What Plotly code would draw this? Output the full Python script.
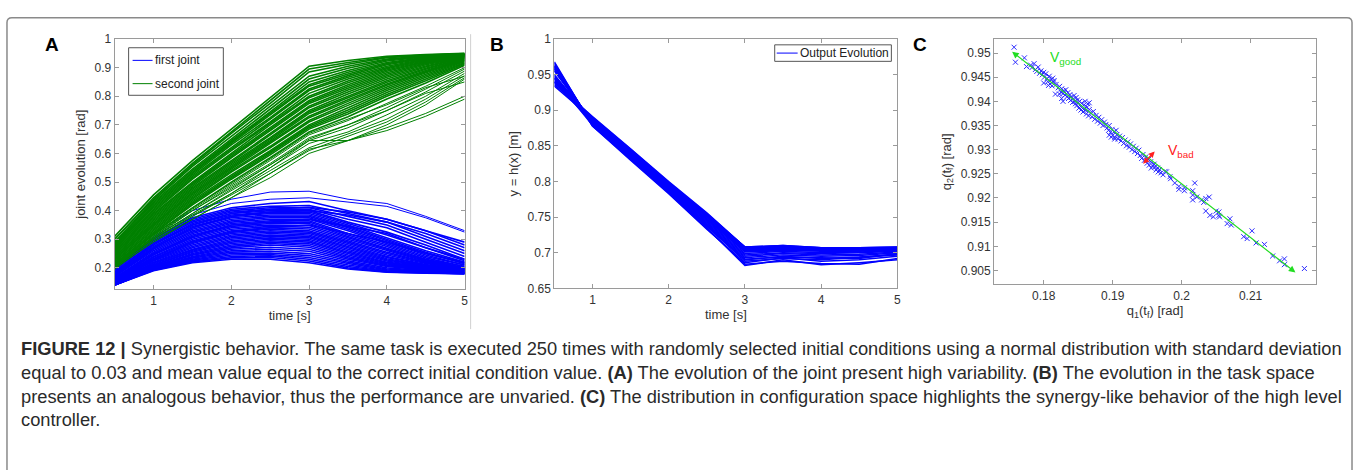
import plotly.graph_objects as go

# ---------------- data ----------------
time_s = [0.5, 1, 1.5, 2, 2.5, 3, 3.5, 4, 4.5, 5]

# first joint: dense bundle + a few outlying runs
first_joint = [
    [0.20, 0.305, 0.375, 0.41, 0.425, 0.432, 0.40, 0.37, 0.33, 0.28],
    [0.195, 0.30, 0.37, 0.405, 0.415, 0.418, 0.39, 0.36, 0.32, 0.27],
    [0.19, 0.295, 0.365, 0.40, 0.41, 0.41, 0.38, 0.35, 0.30, 0.25],
    [0.185, 0.29, 0.36, 0.395, 0.405, 0.405, 0.37, 0.34, 0.29, 0.24],
    [0.185, 0.285, 0.355, 0.39, 0.40, 0.40, 0.36, 0.325, 0.28, 0.23],
    [0.18, 0.28, 0.35, 0.385, 0.395, 0.395, 0.355, 0.315, 0.27, 0.225],
    [0.18, 0.275, 0.345, 0.38, 0.39, 0.39, 0.35, 0.305, 0.26, 0.22],
    [0.175, 0.27, 0.34, 0.375, 0.385, 0.385, 0.345, 0.30, 0.255, 0.215],
    [0.175, 0.27, 0.335, 0.37, 0.38, 0.38, 0.34, 0.295, 0.25, 0.215],
    [0.17, 0.265, 0.33, 0.365, 0.375, 0.375, 0.335, 0.29, 0.245, 0.21],
    [0.17, 0.26, 0.325, 0.36, 0.37, 0.37, 0.33, 0.285, 0.24, 0.21],
    [0.165, 0.255, 0.32, 0.355, 0.365, 0.365, 0.32, 0.28, 0.235, 0.205],
    [0.165, 0.25, 0.315, 0.35, 0.36, 0.36, 0.315, 0.275, 0.23, 0.205],
    [0.16, 0.248, 0.31, 0.345, 0.355, 0.355, 0.31, 0.27, 0.228, 0.20],
    [0.16, 0.245, 0.305, 0.34, 0.35, 0.348, 0.305, 0.265, 0.225, 0.20],
    [0.158, 0.24, 0.30, 0.335, 0.345, 0.342, 0.30, 0.26, 0.222, 0.198],
    [0.155, 0.237, 0.295, 0.33, 0.34, 0.336, 0.295, 0.255, 0.22, 0.197],
    [0.155, 0.233, 0.29, 0.325, 0.335, 0.33, 0.29, 0.25, 0.218, 0.196],
    [0.152, 0.23, 0.285, 0.32, 0.33, 0.325, 0.285, 0.245, 0.215, 0.195],
    [0.15, 0.227, 0.28, 0.315, 0.325, 0.32, 0.28, 0.24, 0.212, 0.194],
    [0.15, 0.224, 0.275, 0.31, 0.32, 0.315, 0.275, 0.236, 0.21, 0.193],
    [0.148, 0.22, 0.27, 0.305, 0.315, 0.31, 0.27, 0.232, 0.208, 0.192],
    [0.147, 0.217, 0.265, 0.30, 0.31, 0.305, 0.265, 0.228, 0.206, 0.191],
    [0.146, 0.214, 0.262, 0.295, 0.305, 0.30, 0.26, 0.224, 0.204, 0.19],
    [0.145, 0.211, 0.258, 0.29, 0.30, 0.295, 0.255, 0.22, 0.202, 0.189],
    [0.144, 0.208, 0.255, 0.285, 0.295, 0.29, 0.25, 0.217, 0.20, 0.188],
    [0.143, 0.206, 0.25, 0.28, 0.29, 0.284, 0.245, 0.214, 0.198, 0.187],
    [0.142, 0.204, 0.247, 0.275, 0.285, 0.278, 0.24, 0.211, 0.196, 0.186],
    [0.141, 0.202, 0.244, 0.27, 0.28, 0.272, 0.235, 0.208, 0.194, 0.185],
    [0.14, 0.20, 0.24, 0.265, 0.272, 0.265, 0.23, 0.205, 0.192, 0.184],
    [0.14, 0.198, 0.237, 0.26, 0.265, 0.258, 0.225, 0.20, 0.19, 0.183],
    [0.14, 0.196, 0.234, 0.255, 0.258, 0.25, 0.22, 0.196, 0.188, 0.182],
    [0.14, 0.195, 0.23, 0.25, 0.252, 0.243, 0.215, 0.193, 0.186, 0.181],
    [0.14, 0.194, 0.227, 0.245, 0.247, 0.236, 0.21, 0.19, 0.184, 0.18],
    [0.14, 0.193, 0.224, 0.24, 0.242, 0.23, 0.205, 0.188, 0.183, 0.18],
    [0.14, 0.192, 0.221, 0.235, 0.236, 0.224, 0.20, 0.186, 0.182, 0.18],
    [0.14, 0.19, 0.218, 0.23, 0.23, 0.218, 0.196, 0.185, 0.181, 0.18],
    [0.17, 0.27, 0.34, 0.38, 0.395, 0.40, 0.385, 0.36, 0.31, 0.26],
    [0.18, 0.285, 0.35, 0.39, 0.405, 0.412, 0.395, 0.37, 0.33, 0.29],
    [0.16, 0.25, 0.31, 0.35, 0.36, 0.37, 0.345, 0.32, 0.27, 0.23],
    [0.15, 0.23, 0.29, 0.325, 0.34, 0.35, 0.32, 0.29, 0.25, 0.22],
]
first_joint_outliers = [
    [0.21, 0.32, 0.40, 0.44, 0.465, 0.468, 0.44, 0.425, 0.38, 0.33],
    [0.20, 0.31, 0.385, 0.425, 0.44, 0.445, 0.43, 0.415, 0.375, 0.325],
]

second_joint = [
    [0.31, 0.455, 0.575, 0.685, 0.795, 0.905, 0.925, 0.940, 0.946, 0.950],
    [0.30, 0.445, 0.565, 0.675, 0.785, 0.895, 0.918, 0.937, 0.944, 0.949],
    [0.30, 0.44, 0.56, 0.67, 0.775, 0.885, 0.912, 0.935, 0.943, 0.948],
    [0.29, 0.435, 0.555, 0.66, 0.765, 0.87, 0.905, 0.930, 0.941, 0.947],
    [0.29, 0.43, 0.545, 0.65, 0.755, 0.86, 0.898, 0.927, 0.940, 0.947],
    [0.285, 0.425, 0.54, 0.645, 0.745, 0.85, 0.89, 0.923, 0.938, 0.946],
    [0.28, 0.42, 0.535, 0.64, 0.74, 0.84, 0.884, 0.918, 0.936, 0.945],
    [0.28, 0.415, 0.53, 0.635, 0.735, 0.835, 0.878, 0.914, 0.934, 0.945],
    [0.275, 0.41, 0.525, 0.63, 0.725, 0.825, 0.872, 0.910, 0.932, 0.944],
    [0.27, 0.405, 0.52, 0.62, 0.72, 0.82, 0.866, 0.905, 0.930, 0.944],
    [0.27, 0.40, 0.515, 0.615, 0.71, 0.81, 0.86, 0.900, 0.928, 0.943],
    [0.265, 0.395, 0.51, 0.61, 0.705, 0.80, 0.853, 0.896, 0.925, 0.942],
    [0.26, 0.39, 0.50, 0.60, 0.70, 0.795, 0.847, 0.892, 0.922, 0.941],
    [0.26, 0.385, 0.495, 0.595, 0.69, 0.785, 0.84, 0.887, 0.92, 0.940],
    [0.255, 0.38, 0.49, 0.59, 0.685, 0.78, 0.834, 0.882, 0.917, 0.939],
    [0.25, 0.375, 0.485, 0.585, 0.68, 0.775, 0.828, 0.877, 0.914, 0.938],
    [0.25, 0.37, 0.48, 0.575, 0.67, 0.765, 0.822, 0.872, 0.91, 0.937],
    [0.245, 0.365, 0.475, 0.57, 0.665, 0.76, 0.815, 0.866, 0.906, 0.936],
    [0.24, 0.36, 0.47, 0.565, 0.655, 0.75, 0.808, 0.860, 0.902, 0.935],
    [0.24, 0.355, 0.465, 0.56, 0.65, 0.745, 0.80, 0.854, 0.898, 0.933],
    [0.235, 0.35, 0.46, 0.555, 0.645, 0.74, 0.795, 0.849, 0.894, 0.932],
    [0.23, 0.35, 0.455, 0.55, 0.64, 0.73, 0.788, 0.843, 0.89, 0.930],
    [0.23, 0.345, 0.45, 0.545, 0.635, 0.725, 0.782, 0.838, 0.886, 0.928],
    [0.225, 0.34, 0.445, 0.54, 0.625, 0.715, 0.775, 0.832, 0.882, 0.926],
    [0.22, 0.335, 0.44, 0.535, 0.62, 0.71, 0.768, 0.826, 0.877, 0.924],
    [0.22, 0.33, 0.435, 0.525, 0.61, 0.70, 0.76, 0.82, 0.872, 0.921],
    [0.215, 0.325, 0.43, 0.52, 0.605, 0.695, 0.752, 0.813, 0.866, 0.918],
    [0.21, 0.32, 0.425, 0.515, 0.60, 0.69, 0.745, 0.806, 0.86, 0.915],
    [0.21, 0.32, 0.42, 0.51, 0.595, 0.685, 0.738, 0.80, 0.854, 0.912],
    [0.205, 0.315, 0.41, 0.50, 0.585, 0.675, 0.728, 0.79, 0.846, 0.908],
]
second_joint_outliers = [
    [0.20, 0.31, 0.405, 0.49, 0.575, 0.665, 0.715, 0.775, 0.835, 0.90],
    [0.20, 0.305, 0.40, 0.485, 0.565, 0.655, 0.70, 0.76, 0.825, 0.895],
    [0.205, 0.31, 0.40, 0.48, 0.56, 0.645, 0.69, 0.75, 0.815, 0.888],
    [0.21, 0.305, 0.39, 0.47, 0.55, 0.635, 0.675, 0.735, 0.80, 0.88],
    [0.20, 0.30, 0.385, 0.46, 0.54, 0.62, 0.668, 0.72, 0.79, 0.872],
    [0.205, 0.30, 0.38, 0.455, 0.53, 0.61, 0.66, 0.71, 0.78, 0.865],
    [0.195, 0.295, 0.37, 0.445, 0.515, 0.60, 0.645, 0.70, 0.77, 0.86],
    [0.20, 0.29, 0.37, 0.445, 0.53, 0.615, 0.645, 0.68, 0.73, 0.79],
    [0.21, 0.30, 0.38, 0.46, 0.55, 0.645, 0.645, 0.69, 0.74, 0.80],
    [0.205, 0.305, 0.39, 0.475, 0.56, 0.65, 0.70, 0.75, 0.81, 0.85],
    [0.215, 0.315, 0.41, 0.495, 0.58, 0.67, 0.72, 0.77, 0.83, 0.87],
]

output_evolution = [
    [0.968, 0.878, 0.832, 0.786, 0.738, 0.690, 0.695, 0.692, 0.694, 0.698],
    [0.966, 0.879, 0.833, 0.787, 0.740, 0.693, 0.697, 0.695, 0.696, 0.700],
    [0.964, 0.880, 0.834, 0.788, 0.741, 0.695, 0.699, 0.697, 0.698, 0.701],
    [0.962, 0.881, 0.835, 0.789, 0.743, 0.697, 0.700, 0.699, 0.700, 0.702],
    [0.960, 0.882, 0.836, 0.790, 0.744, 0.699, 0.702, 0.700, 0.701, 0.703],
    [0.958, 0.883, 0.837, 0.791, 0.746, 0.701, 0.703, 0.702, 0.702, 0.704],
    [0.956, 0.884, 0.838, 0.792, 0.747, 0.702, 0.704, 0.703, 0.703, 0.704],
    [0.955, 0.884, 0.839, 0.793, 0.748, 0.703, 0.705, 0.704, 0.704, 0.705],
    [0.950, 0.885, 0.840, 0.794, 0.750, 0.705, 0.706, 0.705, 0.705, 0.706],
    [0.948, 0.886, 0.841, 0.795, 0.751, 0.706, 0.707, 0.705, 0.705, 0.706],
    [0.946, 0.887, 0.842, 0.796, 0.752, 0.707, 0.708, 0.706, 0.706, 0.707],
    [0.944, 0.888, 0.843, 0.797, 0.753, 0.708, 0.709, 0.706, 0.706, 0.707],
    [0.942, 0.889, 0.844, 0.798, 0.754, 0.708, 0.709, 0.707, 0.707, 0.707],
    [0.940, 0.890, 0.845, 0.799, 0.755, 0.708, 0.710, 0.707, 0.707, 0.708],
    [0.938, 0.891, 0.846, 0.800, 0.756, 0.708, 0.710, 0.707, 0.707, 0.708],
    [0.936, 0.890, 0.844, 0.797, 0.752, 0.707, 0.708, 0.706, 0.706, 0.707],
    [0.934, 0.888, 0.842, 0.795, 0.749, 0.704, 0.706, 0.704, 0.704, 0.705],
    [0.962, 0.880, 0.832, 0.785, 0.735, 0.682, 0.690, 0.683, 0.686, 0.690],
    [0.945, 0.879, 0.831, 0.784, 0.734, 0.684, 0.688, 0.685, 0.684, 0.692],
    [0.960, 0.878, 0.830, 0.783, 0.733, 0.686, 0.693, 0.688, 0.690, 0.695],
    [0.940, 0.882, 0.834, 0.786, 0.737, 0.688, 0.692, 0.690, 0.693, 0.697],
    [0.958, 0.881, 0.835, 0.788, 0.739, 0.691, 0.694, 0.693, 0.692, 0.699],
]

# final configuration (q1(tf), q2(tf)) pairs
tf_points_upper = [
    (0.1757, 0.9512), (0.1759, 0.9481), (0.1772, 0.9490), (0.1775, 0.9472), (0.1781, 0.9475),
    (0.1783, 0.9470), (0.1786, 0.9478), (0.1788, 0.9466), (0.1790, 0.9462), (0.1792, 0.9471),
    (0.1794, 0.9458), (0.1796, 0.9463), (0.1798, 0.9455), (0.1800, 0.9438), (0.1800, 0.9460),
    (0.1801, 0.9450), (0.1803, 0.9457), (0.1805, 0.9447), (0.1806, 0.9441), (0.1807, 0.9433),
    (0.1808, 0.9452), (0.1809, 0.9436), (0.1811, 0.9445), (0.1812, 0.9432), (0.1813, 0.9448),
    (0.1814, 0.9440), (0.1815, 0.9443),
]
tf_points_middle = [
    (0.1817, 0.9415), (0.1818, 0.9435), (0.1821, 0.9428), (0.1823, 0.9431), (0.1823, 0.9415),
    (0.1825, 0.9419), (0.1826, 0.9406), (0.1826, 0.9426), (0.1828, 0.9400), (0.1828, 0.9416),
    (0.1829, 0.9422), (0.1831, 0.9413), (0.1832, 0.9424), (0.1834, 0.9410), (0.1835, 0.9418),
    (0.1836, 0.9406), (0.1838, 0.9414), (0.1839, 0.9402), (0.1840, 0.9409), (0.1842, 0.9398),
    (0.1843, 0.9405), (0.1844, 0.9412), (0.1845, 0.9400), (0.1846, 0.9395), (0.1847, 0.9408),
    (0.1848, 0.9391), (0.1849, 0.9403), (0.1850, 0.9397), (0.1851, 0.9386), (0.1852, 0.9400),
    (0.1853, 0.9393), (0.1854, 0.9382), (0.1855, 0.9396), (0.1856, 0.9389), (0.1857, 0.9378),
    (0.1858, 0.9392), (0.1859, 0.9385), (0.1860, 0.9400), (0.1861, 0.9381), (0.1862, 0.9374),
    (0.1863, 0.9388), (0.1864, 0.9395), (0.1865, 0.9370), (0.1866, 0.9383), (0.1866, 0.9397),
    (0.1868, 0.9376), (0.1870, 0.9368), (0.1872, 0.9379), (0.1874, 0.9363), (0.1876, 0.9371),
    (0.1878, 0.9359), (0.1880, 0.9367), (0.1882, 0.9355), (0.1884, 0.9362), (0.1886, 0.9350),
    (0.1888, 0.9357),
]
tf_points_lower = [
    (0.1890, 0.9352), (0.1892, 0.9345), (0.1894, 0.9340), (0.1895, 0.9330), (0.1895, 0.9350),
    (0.1897, 0.9336), (0.1898, 0.9326), (0.1899, 0.9342), (0.1900, 0.9330), (0.1902, 0.9337),
    (0.1903, 0.9322), (0.1903, 0.9325), (0.1905, 0.9340), (0.1906, 0.9331), (0.1908, 0.9322),
    (0.1910, 0.9328), (0.1912, 0.9318), (0.1914, 0.9325), (0.1916, 0.9313), (0.1918, 0.9320),
    (0.1920, 0.9308), (0.1922, 0.9316), (0.1924, 0.9305), (0.1926, 0.9312), (0.1928, 0.9300),
    (0.1930, 0.9307), (0.1932, 0.9296), (0.1934, 0.9303), (0.1936, 0.9292), (0.1938, 0.9299),
    (0.1940, 0.9288), (0.1942, 0.9282), (0.1944, 0.9290), (0.1946, 0.9278), (0.1948, 0.9285),
    (0.1950, 0.9272), (0.1952, 0.9280), (0.1953, 0.9268), (0.1955, 0.9275), (0.1956, 0.9262),
    (0.1958, 0.9266), (0.1960, 0.9270), (0.1961, 0.9264), (0.1963, 0.9258), (0.1965, 0.9262),
    (0.1966, 0.9254), (0.1968, 0.9259), (0.1970, 0.9252), (0.1973, 0.9248), (0.1976, 0.9255),
    (0.1978, 0.9254), (0.1983, 0.9244), (0.1984, 0.9240), (0.1990, 0.9231), (0.1996, 0.9224),
    (0.1996, 0.9218), (0.2004, 0.9221), (0.2004, 0.9215),
]
tf_points_sparse = [
    (0.2016, 0.9215), (0.2016, 0.9206), (0.2016, 0.9196), (0.2019, 0.9231), (0.2022, 0.9202),
    (0.2029, 0.9196), (0.2032, 0.9191), (0.2035, 0.9199), (0.2040, 0.9202), (0.2035, 0.9173),
    (0.2041, 0.9164), (0.2046, 0.9161), (0.2050, 0.9173), (0.2054, 0.9171), (0.2054, 0.9164),
    (0.2055, 0.9161), (0.2066, 0.9147), (0.2070, 0.9157), (0.2072, 0.9144), (0.2090, 0.9120),
    (0.2095, 0.9116), (0.2102, 0.9132), (0.2108, 0.9107), (0.2120, 0.9104), (0.2132, 0.9080),
    (0.2142, 0.9070), (0.2149, 0.9074), (0.2149, 0.9062), (0.2178, 0.9054),
]

# direction vectors drawn in panel C (tail -> head, both ends arrowed)
v_good_q1 = [0.1752, 0.2165]
v_good_q2 = [0.9505, 0.9046]
v_bad_q1 = [0.1942, 0.1961]
v_bad_q2 = [0.9268, 0.9296]

x_ticks_time = [1, 2, 3, 4, 5]
y_ticks_a = [0.2, 0.3, 0.4, 0.5, 0.6, 0.7, 0.8, 0.9, 1]
y_ticks_b = [0.65, 0.7, 0.75, 0.8, 0.85, 0.9, 0.95, 1]
x_ticks_c = [0.18, 0.19, 0.2, 0.21]
y_ticks_c = [0.905, 0.91, 0.915, 0.92, 0.925, 0.93, 0.935, 0.94, 0.945, 0.95]

legend_a_labels = ["first joint", "second joint"]
legend_b_labels = ["Output Evolution"]

caption_lines = [
    "<b>FIGURE 12 |</b> Synergistic behavior. The same task is executed 250 times with randomly selected initial conditions using a normal distribution with standard deviation",
    "equal to 0.03 and mean value equal to the correct initial condition value. <b>(A)</b> The evolution of the joint present high variability. <b>(B)</b> The evolution in the task space",
    "presents an analogous behavior, thus the performance are unvaried. <b>(C)</b> The distribution in configuration space highlights the synergy-like behavior of the high level",
    "controller.",
]

# ---------------- figure ----------------
W, H = 1360, 470
BLUE = "#0000ff"
GREEN = "#008000"
FONT = "Liberation Sans, Arial, Helvetica, sans-serif"
AX_COL = "#9a9a9a"
TXT_COL = "#333333"

fig = go.Figure()


def add_bundle(curves, color, width, name, xa, ya):
    for curve in curves:
        fig.add_trace(go.Scatter(x=time_s, y=curve, mode="lines", line=dict(color=color, width=width),
                                 name=name, showlegend=False, xaxis=xa, yaxis=ya, hoverinfo="skip"))


add_bundle(first_joint, BLUE, 1.6, legend_a_labels[0], "x", "y")
add_bundle(first_joint_outliers, BLUE, 1.0, legend_a_labels[0], "x", "y")
add_bundle(second_joint, GREEN, 1.6, legend_a_labels[1], "x", "y")
add_bundle(second_joint_outliers, GREEN, 1.0, legend_a_labels[1], "x", "y")
add_bundle(output_evolution, BLUE, 1.5, legend_b_labels[0], "x2", "y2")

tf_points = tf_points_upper + tf_points_middle + tf_points_lower + tf_points_sparse
fig.add_trace(go.Scatter(x=[p[0] for p in tf_points], y=[p[1] for p in tf_points], mode="markers",
                         marker=dict(symbol="x-thin", size=5, line=dict(color="#2a2aff", width=1)),
                         showlegend=False, xaxis="x3", yaxis="y3", hoverinfo="skip"))


def px_x(p):
    return p / W


def px_y(p):
    return 1 - p / H


def axis(domain, rng, tickvals, title, standoff, anchor, **kw):
    d = dict(domain=domain, range=rng, tickvals=tickvals, anchor=anchor,
             showline=True, linecolor=AX_COL, linewidth=1, mirror="ticks",
             ticks="inside", ticklen=4, tickcolor=AX_COL, tickwidth=1,
             showgrid=False, zeroline=False,
             tickfont=dict(family=FONT, size=12, color=TXT_COL),
             title=dict(text=title, font=dict(family=FONT, size=13, color=TXT_COL), standoff=standoff))
    d.update(kw)
    return d


fig.update_layout(
    width=W, height=H, margin=dict(l=0, r=0, t=0, b=0),
    paper_bgcolor="white", plot_bgcolor="white",
    font=dict(family=FONT, color=TXT_COL),
    showlegend=False,
    xaxis=axis([px_x(115), px_x(466)], [0.5, 5], x_ticks_time, "time [s]", 2, "y"),
    yaxis=axis([px_y(291), px_y(33)], [0.125, 1], y_ticks_a, "joint evolution [rad]", 6, "x"),
    xaxis2=axis([px_x(556), px_x(900)], [0.5, 5], x_ticks_time, "time [s]", 2, "y2"),
    yaxis2=axis([px_y(290), px_y(33)], [0.65, 1], y_ticks_b, "y = h(x) [m]", 6, "x2"),
    xaxis3=axis([px_x(997), px_x(1320)], [0.1728, 0.2195], x_ticks_c,
                "q<sub>1</sub>(t<sub>f</sub>) [rad]", 2, "y3"),
    yaxis3=axis([px_y(286), px_y(33)], [0.9021, 0.9529], y_ticks_c,
                "q<sub>2</sub>(t<sub>f</sub>) [rad]", 6, "x3"),
)

annotations = []
shapes = []

# ---- legends (MATLAB-style boxes) ----
LEG_BORDER = "#555555"
# panel A legend
shapes.append(dict(type="rect", xref="paper", yref="paper", x0=px_x(129), x1=px_x(224),
                   y0=px_y(91), y1=px_y(42), line=dict(color=LEG_BORDER, width=1), fillcolor="white"))
for label, col, yp in ((legend_a_labels[0], BLUE, 55), (legend_a_labels[1], GREEN, 79)):
    shapes.append(dict(type="line", xref="paper", yref="paper", x0=px_x(133), x1=px_x(153),
                       y0=px_y(yp), y1=px_y(yp), line=dict(color=col, width=1)))
    annotations.append(dict(x=px_x(153), y=px_y(yp), xref="paper", yref="paper", text=label,
                            showarrow=False, xanchor="left", yanchor="middle",
                            font=dict(family=FONT, size=12, color="#222222")))
# panel B legend
shapes.append(dict(type="rect", xref="paper", yref="paper", x0=px_x(777), x1=px_x(894),
                   y0=px_y(56), y1=px_y(39), line=dict(color=LEG_BORDER, width=1), fillcolor="white"))
shapes.append(dict(type="line", xref="paper", yref="paper", x0=px_x(779), x1=px_x(800),
                   y0=px_y(47.5), y1=px_y(47.5), line=dict(color=BLUE, width=1)))
annotations.append(dict(x=px_x(800), y=px_y(47.5), xref="paper", yref="paper", text=legend_b_labels[0],
                        showarrow=False, xanchor="left", yanchor="middle",
                        font=dict(family=FONT, size=12, color="#222222")))

# direction arrows in panel C
annotations.append(dict(x=v_good_q1[1], y=v_good_q2[1], ax=v_good_q1[0], ay=v_good_q2[0],
                        xref="x3", yref="y3", axref="x3", ayref="y3", text="", showarrow=True,
                        arrowhead=2, arrowside="end+start", arrowsize=1.1, arrowwidth=1.2,
                        arrowcolor="#22dd22"))
annotations.append(dict(x=v_bad_q1[1], y=v_bad_q2[1], ax=v_bad_q1[0], ay=v_bad_q2[0],
                        xref="x3", yref="y3", axref="x3", ayref="y3", text="", showarrow=True,
                        arrowhead=2, arrowside="end+start", arrowsize=0.8, arrowwidth=1.5,
                        arrowcolor="#ff2020"))
annotations.append(dict(x=0.1806, y=0.9490, xref="x3", yref="y3", text="V<sub>good</sub>",
                        showarrow=False, xanchor="left", yanchor="middle",
                        font=dict(family=FONT, size=14, color="#22dd22")))
annotations.append(dict(x=0.1977, y=0.9297, xref="x3", yref="y3", text="V<sub>bad</sub>",
                        showarrow=False, xanchor="left", yanchor="middle",
                        font=dict(family=FONT, size=14, color="#ff2020")))
# panel letters
for letter, xp in (("A", 52), ("B", 498), ("C", 923)):
    annotations.append(dict(x=px_x(xp), y=px_y(39), xref="paper", yref="paper", text="<b>%s</b>" % letter,
                            showarrow=False, xanchor="center", yanchor="middle",
                            font=dict(family=FONT, size=19, color="black")))
# caption
annotations.append(dict(x=px_x(19), y=px_y(339), xref="paper", yref="paper",
                        text="<br>".join(caption_lines), showarrow=False, align="left",
                        xanchor="left", yanchor="top",
                        font=dict(family=FONT, size=18.3, color="#2a2a2a")))

# frame and separator
r = 5
x0, x1 = px_x(7), px_x(1356)
y_top = px_y(11)
y_bot = -0.2
rx, ry = r / W, r / H
frame_path = (f"M {x0},{y_bot} L {x0},{y_top - ry} Q {x0},{y_top} {x0 + rx},{y_top} "
              f"L {x1 - rx},{y_top} Q {x1},{y_top} {x1},{y_top - ry} L {x1},{y_bot}")
shapes.append(dict(type="path", path=frame_path, xref="paper", yref="paper",
                   line=dict(color="#8a8a8a", width=1.5)))
shapes.append(dict(type="line", x0=px_x(472), x1=px_x(472), y0=px_y(332), y1=px_y(28),
                   xref="paper", yref="paper", line=dict(color="#d0d0d0", width=1)))

fig.update_layout(annotations=annotations, shapes=shapes)

fig.write_html("out.html", config={"displayModeBar": False},
               post_script="document.body.style.margin='0px';")
